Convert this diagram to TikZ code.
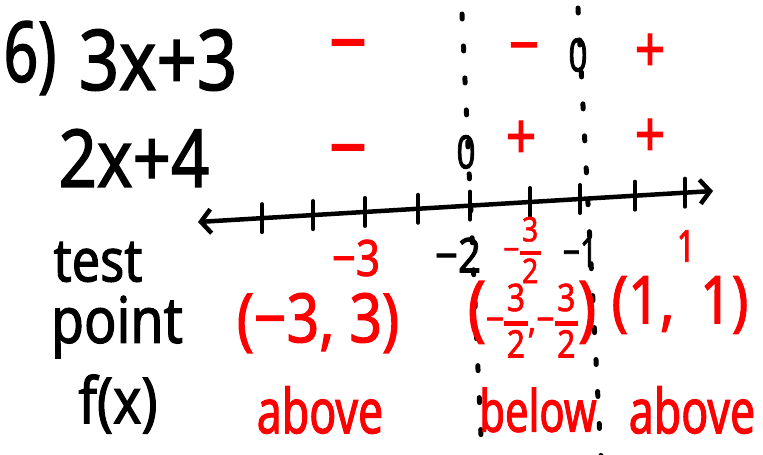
\documentclass[tikz,border=0pt]{standalone}
\usepackage{fontspec}
\setmainfont{Noto Sans}
\newfontfamily\hwn{Noto Sans}[FakeStretch=0.72, FakeBold=1.6]
\newfontfamily\hwm{Noto Sans}[FakeStretch=0.84, FakeBold=1.6]
\usetikzlibrary{arrows.meta}
\definecolor{pen}{RGB}{255,0,0}
\newcommand\hfr[2]{\begin{tabular}{@{}c@{}}#1\\[-0.3em]\rule[0.3em]{0.62em}{0.13em}\\[-0.5em]#2\end{tabular}}
\begin{document}
\begin{tikzpicture}[x=1pt,y=-1pt,
  blk/.style={text=black, inner sep=0pt},
  rd/.style={text=pen, inner sep=0pt},
  nar/.style={font=\fontsize{#1}{#1}\selectfont\hwn},
  med/.style={font=\fontsize{#1}{#1}\selectfont\hwm},
  axis/.style={line width=4.5pt, line cap=round, {Straight Barb[length=10pt,width=24pt,line width=4.5pt]}-{Straight Barb[length=10pt,width=24pt,line width=4.5pt]}},
  tick/.style={line width=4pt, line cap=round},
  dotline/.style={line width=5pt, line cap=round, dash pattern=on 5pt off 27pt}]
\useasboundingbox (0,0) rectangle (763,455);
% dotted guide lines
\coordinate (d1t) at (462,14);
\coordinate (d1b) at (482,458);
\coordinate (d2t) at (578,8);
\coordinate (d2b) at (601,458);
\draw[dotline] (d1t) -- (d1b);
\draw[dotline] (d2t) -- (d2b);
% factor rows
\node[blk, nar=84] (six) at (30,58) {6)};
\node[blk, med=84] (fa) at (158,60) {3x+3};
\node[blk, med=80] (fb) at (134,158) {2x+4};
\node[rd, med=80] (s11) at (348,55) {−};
\node[rd, med=80] (s21) at (348,160) {−};
\node[rd, med=64] (s12) at (524,55) {−};
\node[blk, nar=46] (z1) at (578,55) {0};
\node[rd, med=64] (s13) at (650,53) {+};
\node[blk, nar=46] (z2) at (466,152) {0};
\node[rd, med=64] (s22) at (521,140) {+};
\node[rd, med=64] (s23) at (650,138) {+};
% number line
\coordinate (axL) at (198,222);
\coordinate (axR) at (713,191);
\draw[axis] (axL) -- (axR);
\foreach \x in {262,313,365,418,470,530,580,635,685}
  \draw[tick] (\x,{222-31*(\x-198)/515-14}) -- ++(0,28);
\node[rd, med=50] (lm3) at (356,258) {−3};
\node[blk, med=48] (lm2) at (458,255) {−2};
\node[rd, med=34] (lm32) at (522,255) {−\hfr{3}{2}};
\node[blk, nar=42] (lm1) at (580,252) {−1};
\node[rd, nar=44] (l1) at (686,246) {1};
% test point rows
\node[blk, med=60] (test) at (98,262) {test};
\node[blk, med=64] (point) at (117,327) {point};
\node[blk, med=64] (fx) at (118,404) {f(x)};
\node[rd, med=68] (p1) at (318,323) {(−3, 3)};
\node[rd, med=30] (p2) at (532,325) {\fontsize{72}{72}\selectfont(\fontsize{38}{38}\selectfont−\hfr{3}{2},−\hfr{3}{2}\fontsize{72}{72}\selectfont)};
\node[rd, med=66] (p3) at (680,305) {(1,\, 1)};
\node[rd, nar=62] (a1) at (320,410) {above};
\node[rd, nar=58] (b2) at (538,410) {below};
\node[rd, nar=62] (a3) at (692,410) {above};
\end{tikzpicture}
\end{document}
